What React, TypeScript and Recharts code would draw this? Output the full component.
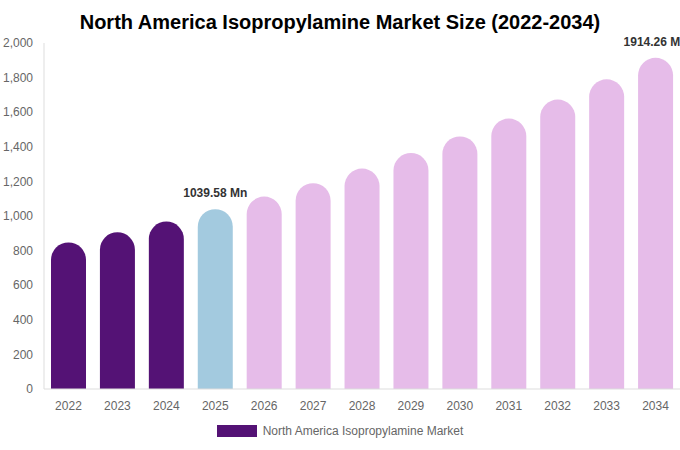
import React from 'react';
import { BarChart, Bar, XAxis, YAxis, Cell, LabelList, Legend } from 'recharts';

const years = ['2022', '2023', '2024', '2025', '2026', '2027', '2028', '2029', '2030', '2031', '2032', '2033', '2034'];
const marketValues = [847, 906, 968, 1039.58, 1112, 1190, 1274, 1364, 1460, 1563, 1673, 1790, 1914.26];
const yTicks = [0, 200, 400, 600, 800, 1000, 1200, 1400, 1600, 1800, 2000];
const labelledYears = ['2025', '2034'];
const seriesName = 'North America Isopropylamine Market';

const DARK = '#541275';
const BLUE = '#a3cadf';
const PINK = '#e6bce9';

const data = years.map((y, i) => ({ year: y, value: marketValues[i] }));

const colorFor = (y: string) => {
  const n = Number(y);
  if (n < 2025) return DARK;
  if (n === 2025) return BLUE;
  return PINK;
};

const FONT = '"Liberation Sans", Arial, sans-serif';

const renderLabel = (props: any) => {
  const { x, y, width, value, index } = props;
  if (!labelledYears.includes(years[index])) return null;
  return (
    <text
      x={x + width / 2}
      y={y - 12}
      textAnchor="middle"
      fontSize={12}
      fontWeight="bold"
      fill="#333"
      fontFamily={FONT}
    >
      {`${Number(value).toFixed(2)} Mn`}
    </text>
  );
};

const renderLegend = () => (
  <div style={{ display: 'flex', justifyContent: 'center', alignItems: 'center', height: 24, fontFamily: FONT, fontSize: 12, color: '#666' }}>
    <span style={{ display: 'inline-block', width: 40, height: 12, background: DARK, marginRight: 6 }} />
    <span>{seriesName}</span>
  </div>
);

export default function App() {
  return (
    <div style={{ position: 'absolute', left: 0, top: 0, width: 680, height: 450, background: '#fff', fontFamily: FONT }}>
      <div style={{ position: 'absolute', left: 0, top: 9, width: 680, textAlign: 'center', fontSize: 20, fontWeight: 'bold', color: '#000', lineHeight: '26px' }}>
        North America Isopropylamine Market Size (2022-2034)
      </div>
      <BarChart width={680} height={450} data={data} margin={{ top: 43, right: 0, left: 0, bottom: 7 }}>
        <XAxis
          dataKey="year"
          tickLine={false}
          axisLine={{ stroke: '#ddd' }}
          tick={{ fill: '#666', fontSize: 12, fontFamily: FONT }}
          height={30}
          tickMargin={6}
        />
        <YAxis
          width={44}
          domain={[0, 2000]}
          ticks={yTicks}
          tickLine={false}
          axisLine={{ stroke: '#ddd' }}
          tick={{ fill: '#666', fontSize: 12, fontFamily: FONT }}
          tickFormatter={(v: number) => v.toLocaleString('en-US')}
          tickMargin={5}
          interval={0}
        />
        <Legend verticalAlign="bottom" content={renderLegend} />
        <Bar dataKey="value" name={seriesName} barSize={35} radius={[18, 18, 0, 0]} isAnimationActive={false}>
          {data.map((d) => (
            <Cell key={d.year} fill={colorFor(d.year)} />
          ))}
          <LabelList dataKey="value" content={renderLabel} />
        </Bar>
      </BarChart>
    </div>
  );
}
